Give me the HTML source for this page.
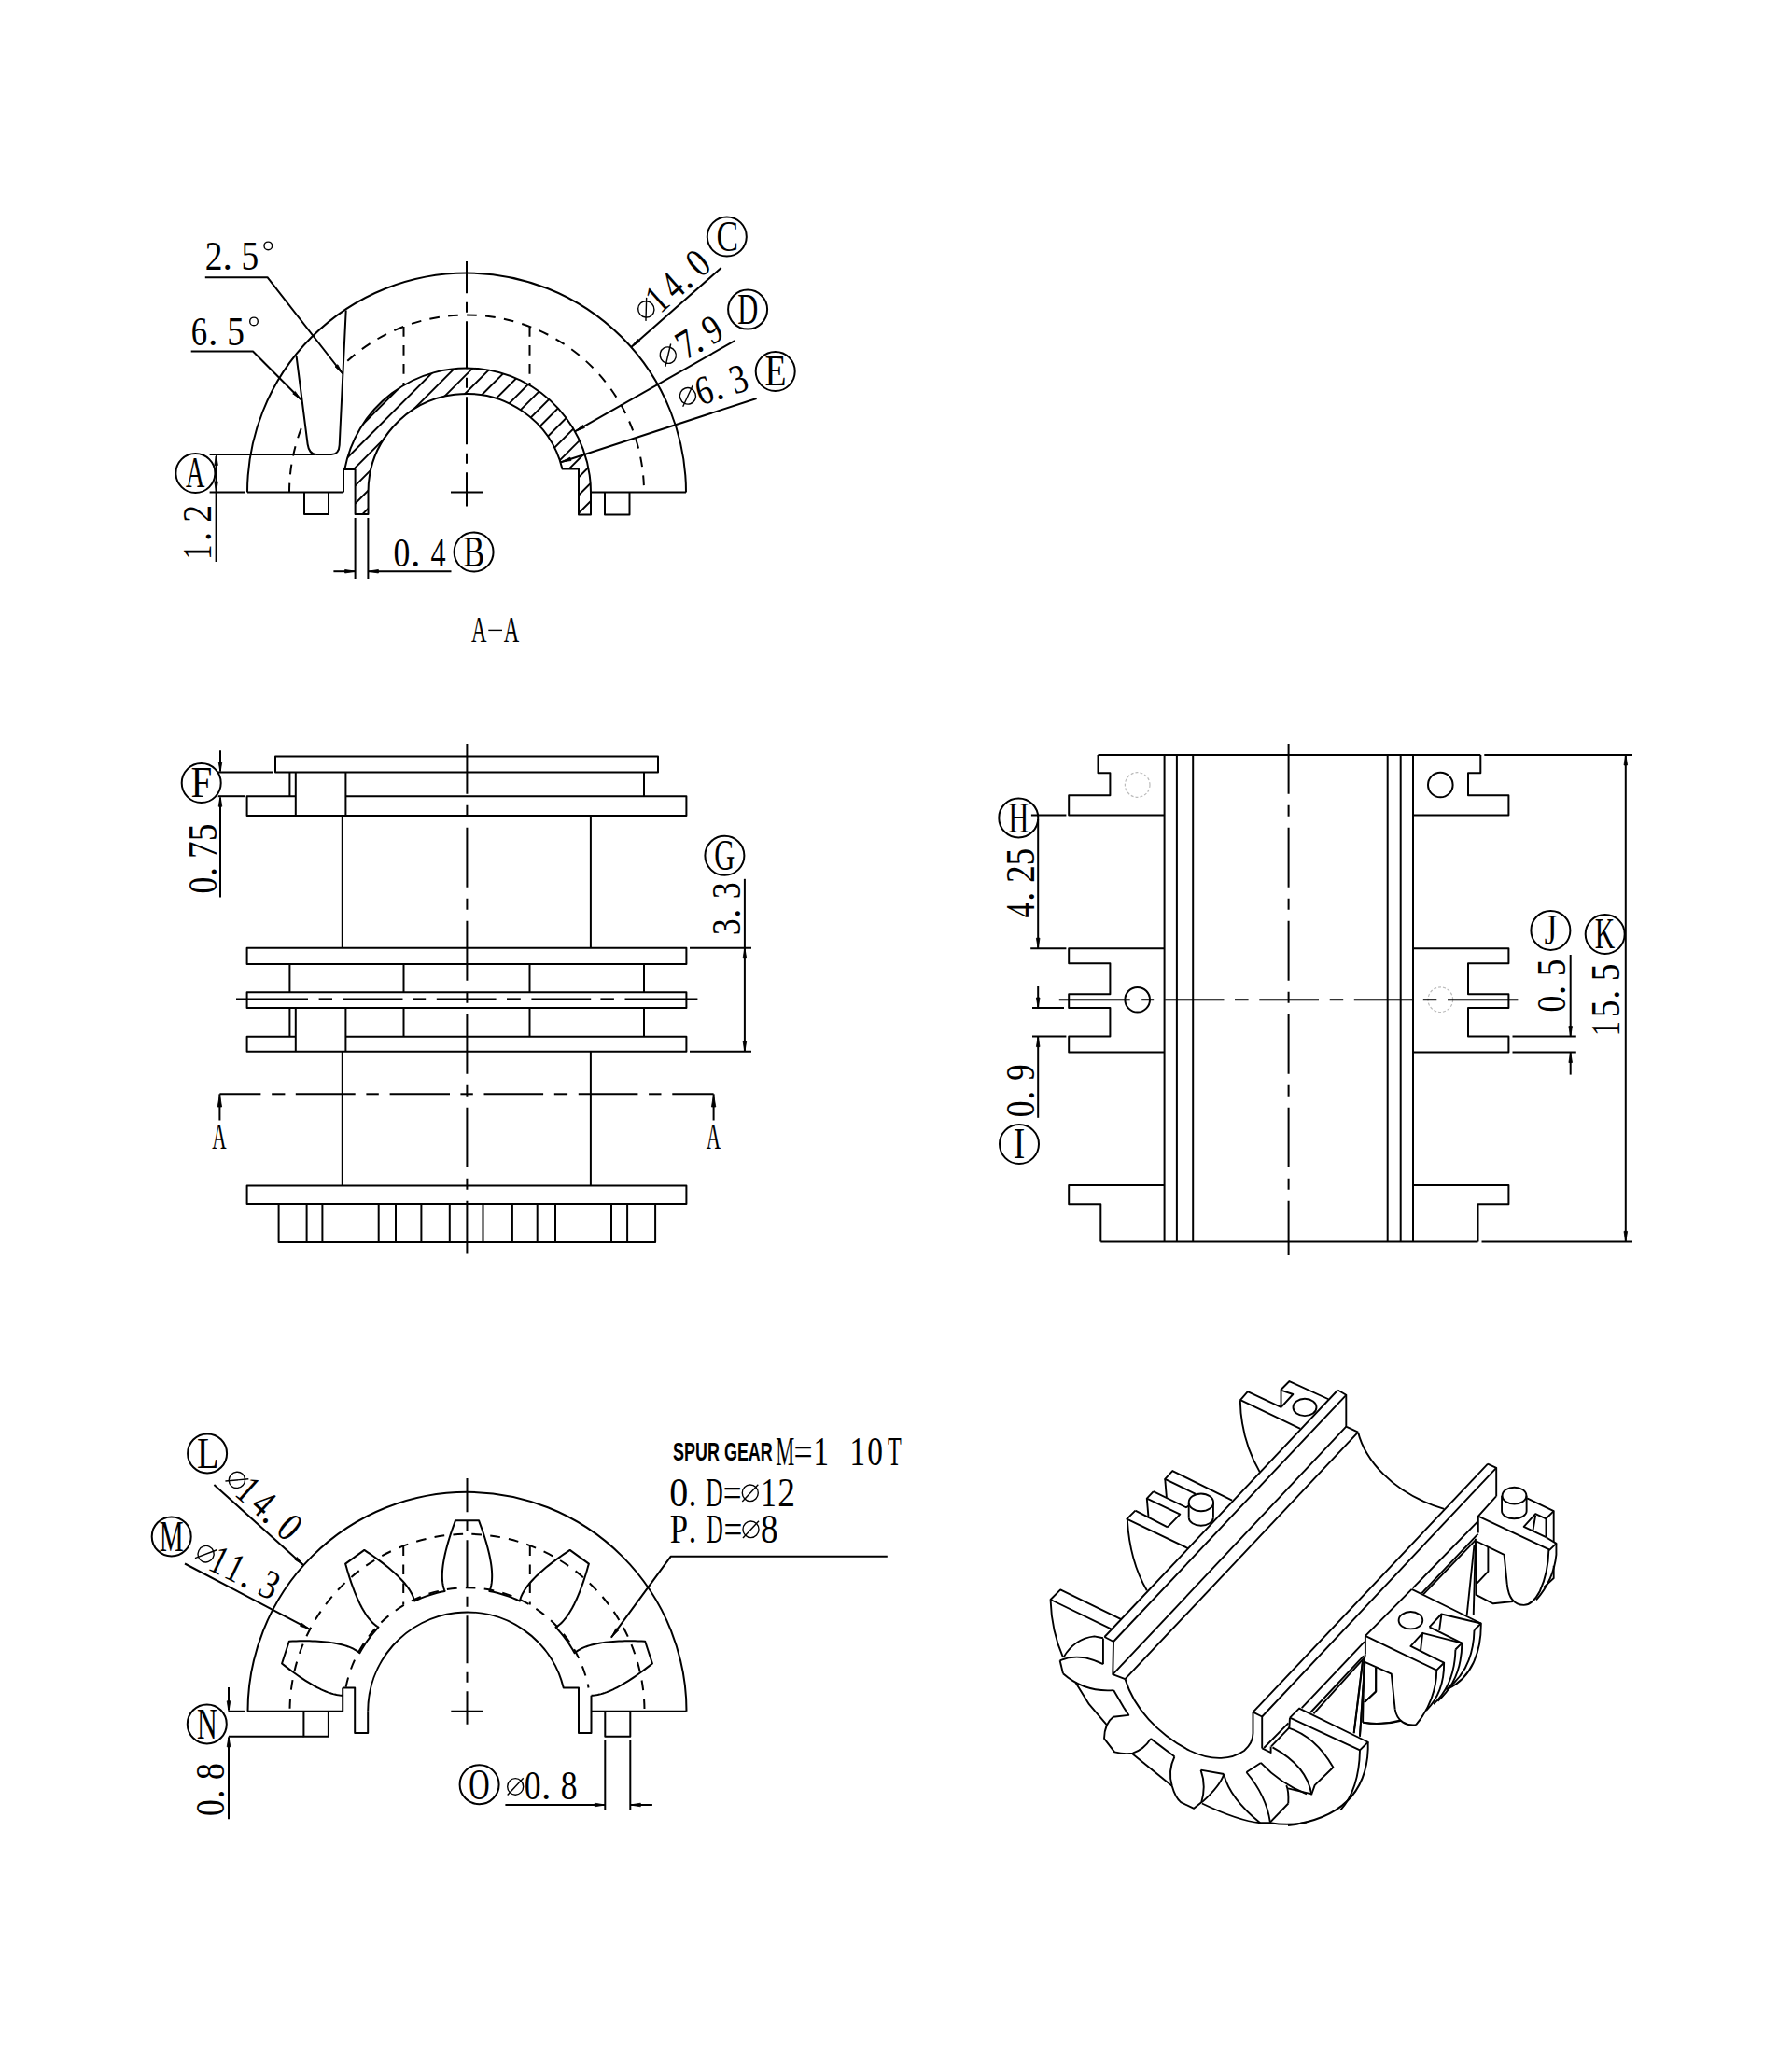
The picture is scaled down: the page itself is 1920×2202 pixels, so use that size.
<!DOCTYPE html>
<html><head><meta charset="utf-8"><style>
html,body{margin:0;padding:0;background:#fff;}
svg{display:block;}
svg line, svg path, svg circle, svg ellipse, svg polyline{fill:none;stroke:#000;stroke-width:2;stroke-linejoin:round;}
svg .ah{fill:#000;stroke:#000;stroke-width:0.8;}
svg .dash{stroke-dasharray:10.7 9.3;}
svg .cl{stroke-dasharray:64 12 12 12;}
svg .cl2{stroke-dasharray:51 9.5 11 9.5;}
svg .cl3{stroke-dasharray:63.5 12 14 12;}
svg .hatch line{stroke-width:1.9;}
svg .ghost{stroke:#bbb;stroke-width:1.2;stroke-dasharray:3 2;}
svg .iso{stroke-width:1.9;}
svg .phi{stroke-width:1.4;}
svg text{font-family:"Liberation Serif",serif;fill:#000;stroke:none;}
svg .tb{font-family:"Liberation Sans",sans-serif;font-weight:bold;}
</style></head><body>
<svg width="1920" height="2202" viewBox="0 0 1920 2202">
<rect width="1920" height="2202" fill="#fff"/>
<g id="topview">
<path d="M265 527.5 A235 235 0 0 1 735 527.5"/>
<line x1="224.6" y1="527.5" x2="262" y2="527.5"/>
<line x1="265" y1="527.5" x2="368" y2="527.5"/>
<line x1="633" y1="527.5" x2="735" y2="527.5"/>
<line x1="224.6" y1="487" x2="338" y2="487"/>
<path d="M317.6 381.8 L329.6 476 Q331.2 487 339 487 L355 487 Q363.2 487 363.7 477 L370.7 332.5"/>
<path d="M310 527.5 A190 190 0 0 1 326.02 451.13" class="dash" stroke-dashoffset="0.8"/>
<path d="M368.01 390.83 A190 190 0 0 1 690 527.5" class="dash" stroke-dashoffset="14.1"/>
<line x1="432.5" y1="350" x2="432.5" y2="413" class="dash"/>
<line x1="567.5" y1="350" x2="567.5" y2="413" class="dash"/>
<clipPath id="hc"><path d="M394.5 551 L394.5 527.5 A105.5 105.5 0 0 1 602.47 502.4 L620 502.4 L620 551.5 L633 551.5 L633 527.5 A133 133 0 0 0 369.28 503 L380.6 503 L380.6 551 Z"/></clipPath>
<g clip-path="url(#hc)" class="hatch">
<line x1="300" y1="101.8" x2="700" y2="-298.2"/>
<line x1="300" y1="121" x2="700" y2="-279"/>
<line x1="300" y1="140.2" x2="700" y2="-259.8"/>
<line x1="300" y1="159.4" x2="700" y2="-240.6"/>
<line x1="300" y1="178.6" x2="700" y2="-221.4"/>
<line x1="300" y1="197.8" x2="700" y2="-202.2"/>
<line x1="300" y1="217" x2="700" y2="-183"/>
<line x1="300" y1="236.2" x2="700" y2="-163.8"/>
<line x1="300" y1="255.4" x2="700" y2="-144.6"/>
<line x1="300" y1="274.6" x2="700" y2="-125.4"/>
<line x1="300" y1="293.8" x2="700" y2="-106.2"/>
<line x1="300" y1="313" x2="700" y2="-87"/>
<line x1="300" y1="332.2" x2="700" y2="-67.8"/>
<line x1="300" y1="351.4" x2="700" y2="-48.6"/>
<line x1="300" y1="370.6" x2="700" y2="-29.4"/>
<line x1="300" y1="389.8" x2="700" y2="-10.2"/>
<line x1="300" y1="409" x2="700" y2="9"/>
<line x1="300" y1="428.2" x2="700" y2="28.2"/>
<line x1="300" y1="447.4" x2="700" y2="47.4"/>
<line x1="300" y1="466.6" x2="700" y2="66.6"/>
<line x1="300" y1="485.8" x2="700" y2="85.8"/>
<line x1="300" y1="505" x2="700" y2="105"/>
<line x1="300" y1="524.2" x2="700" y2="124.2"/>
<line x1="300" y1="543.4" x2="700" y2="143.4"/>
<line x1="300" y1="562.6" x2="700" y2="162.6"/>
<line x1="300" y1="581.8" x2="700" y2="181.8"/>
<line x1="300" y1="601" x2="700" y2="201"/>
<line x1="300" y1="620.2" x2="700" y2="220.2"/>
<line x1="300" y1="639.4" x2="700" y2="239.4"/>
<line x1="300" y1="658.6" x2="700" y2="258.6"/>
<line x1="300" y1="677.8" x2="700" y2="277.8"/>
<line x1="300" y1="697" x2="700" y2="297"/>
<line x1="300" y1="716.2" x2="700" y2="316.2"/>
<line x1="300" y1="735.4" x2="700" y2="335.4"/>
<line x1="300" y1="754.6" x2="700" y2="354.6"/>
<line x1="300" y1="773.8" x2="700" y2="373.8"/>
<line x1="300" y1="793" x2="700" y2="393"/>
<line x1="300" y1="812.2" x2="700" y2="412.2"/>
<line x1="300" y1="831.4" x2="700" y2="431.4"/>
<line x1="300" y1="850.6" x2="700" y2="450.6"/>
<line x1="300" y1="869.8" x2="700" y2="469.8"/>
<line x1="300" y1="889" x2="700" y2="489"/>
<line x1="300" y1="908.2" x2="700" y2="508.2"/>
<line x1="300" y1="927.4" x2="700" y2="527.4"/>
<line x1="300" y1="946.6" x2="700" y2="546.6"/>
<line x1="300" y1="965.8" x2="700" y2="565.8"/>
<line x1="300" y1="985" x2="700" y2="585"/>
<line x1="300" y1="1004.2" x2="700" y2="604.2"/>
<line x1="300" y1="1023.4" x2="700" y2="623.4"/>
<line x1="300" y1="1042.6" x2="700" y2="642.6"/>
<line x1="300" y1="1061.8" x2="700" y2="661.8"/>
<line x1="300" y1="1081" x2="700" y2="681"/>
<line x1="300" y1="1100.2" x2="700" y2="700.2"/>
<line x1="300" y1="1119.4" x2="700" y2="719.4"/>
<line x1="300" y1="1138.6" x2="700" y2="738.6"/>
<line x1="300" y1="1157.8" x2="700" y2="757.8"/>
<line x1="300" y1="1177" x2="700" y2="777"/>
<line x1="300" y1="1196.2" x2="700" y2="796.2"/>
<line x1="300" y1="1215.4" x2="700" y2="815.4"/>
<line x1="300" y1="1234.6" x2="700" y2="834.6"/>
<line x1="300" y1="1253.8" x2="700" y2="853.8"/>
<line x1="300" y1="1273" x2="700" y2="873"/>
<line x1="300" y1="1292.2" x2="700" y2="892.2"/>
<line x1="300" y1="1311.4" x2="700" y2="911.4"/>
<line x1="300" y1="1330.6" x2="700" y2="930.6"/>
<line x1="300" y1="1349.8" x2="700" y2="949.8"/>
<line x1="300" y1="1369" x2="700" y2="969"/>
<line x1="300" y1="1388.2" x2="700" y2="988.2"/>
<line x1="300" y1="1407.4" x2="700" y2="1007.4"/>
<line x1="300" y1="1426.6" x2="700" y2="1026.6"/>
<line x1="300" y1="1445.8" x2="700" y2="1045.8"/>
<line x1="300" y1="1465" x2="700" y2="1065"/>
<line x1="300" y1="1484.2" x2="700" y2="1084.2"/>
<line x1="300" y1="1503.4" x2="700" y2="1103.4"/>
<line x1="300" y1="1522.6" x2="700" y2="1122.6"/>
<line x1="300" y1="1541.8" x2="700" y2="1141.8"/>
<line x1="300" y1="1561" x2="700" y2="1161"/>
<line x1="300" y1="1580.2" x2="700" y2="1180.2"/>
<line x1="300" y1="1599.4" x2="700" y2="1199.4"/>
<line x1="300" y1="1618.6" x2="700" y2="1218.6"/>
</g>
<path d="M394.5 551 L394.5 527.5 A105.5 105.5 0 0 1 602.47 502.4 L620 502.4 L620 551.5 L633 551.5 L633 527.5 A133 133 0 0 0 369.28 503 L380.6 503 L380.6 551 Z"/>
<line x1="368" y1="527.5" x2="368" y2="503"/>
<line x1="368" y1="503" x2="380.6" y2="503"/>
<path d="M326 527.5 L326 551 L352 551 L352 527.5"/>
<path d="M648 527.5 L648 551.5 L674.5 551.5 L674.5 527.5"/>
<line x1="500" y1="280" x2="500" y2="542.5" class="cl2" stroke-dashoffset="16.7"/>
<line x1="483" y1="527.5" x2="517" y2="527.5"/>
<path d="M219.8 297.2 L286.5 297.2 L367.2 400.5" fill="none"/>
<path class="ah" d="M367.2 400.5 L359.01 392.94 L361.85 390.72 Z"/>
<path d="M204.7 376.5 L271 376.5 L322.8 428.5"/>
<path class="ah" d="M322.8 428.5 L313.76 421.98 L316.31 419.44 Z"/>
<g transform="translate(221.5 289)">
<text class="t" transform="translate(-1.69 0) scale(0.85 1)" font-size="44">2</text>
<text class="t" transform="translate(16.89 0) scale(0.95 1)" font-size="44">.</text>
<text class="t" transform="translate(36.95 0) scale(0.85 1)" font-size="44">5</text>
<circle class="phi" cx="65.8" cy="-25.6" r="4.3"/>
</g>
<g transform="translate(206.2 370)">
<text class="t" transform="translate(-1.4 0) scale(0.79 1)" font-size="44">6</text>
<text class="t" transform="translate(16.89 0) scale(0.95 1)" font-size="44">.</text>
<text class="t" transform="translate(36.95 0) scale(0.85 1)" font-size="44">5</text>
<circle class="phi" cx="65.8" cy="-25.6" r="4.3"/>
</g>
<line x1="772.7" y1="287" x2="676.22" y2="372.02"/>
<path class="ah" d="M676.22 372.02 L683.28 363.4 L685.66 366.1 Z"/>
<line x1="787.2" y1="365.1" x2="615.97" y2="462.38"/>
<path class="ah" d="M615.97 462.38 L624.64 455.38 L626.42 458.51 Z"/>
<line x1="810.6" y1="427" x2="600.96" y2="495.2"/>
<path class="ah" d="M600.96 495.2 L610.86 490.08 L611.98 493.51 Z"/>
<g transform="translate(695.2 347.5) rotate(-41.4)">
<ellipse class="phi" cx="8.5" cy="-14" rx="8.5" ry="8.8"/>
<line class="phi" x1="-0.02" y1="-4.86" x2="17.02" y2="-23.14"/>
<text class="t" transform="translate(16.25 0) scale(0.74 1)" font-size="44">1</text>
<text class="t" transform="translate(38.35 0) scale(0.73 1)" font-size="44">4</text>
<text class="t" transform="translate(55.29 0) scale(0.95 1)" font-size="44">.</text>
<text class="t" transform="translate(74.07 0) scale(0.81 1)" font-size="44">0</text>
</g>
<g transform="translate(715.3 397) rotate(-29.6)">
<ellipse class="phi" cx="8.5" cy="-14" rx="8.5" ry="8.8"/>
<line class="phi" x1="-0.02" y1="-4.86" x2="17.02" y2="-23.14"/>
<text class="t" transform="translate(22.09 0) scale(0.84 1)" font-size="44">7</text>
<text class="t" transform="translate(36.79 0) scale(0.95 1)" font-size="44">.</text>
<text class="t" transform="translate(54.45 0) scale(0.79 1)" font-size="44">9</text>
</g>
<g transform="translate(733.2 440.3) rotate(-18)">
<ellipse class="phi" cx="8.5" cy="-14" rx="8.5" ry="8.8"/>
<line class="phi" x1="-0.02" y1="-4.86" x2="17.02" y2="-23.14"/>
<text class="t" transform="translate(18.1 0) scale(0.79 1)" font-size="44">6</text>
<text class="t" transform="translate(36.29 0) scale(0.95 1)" font-size="44">.</text>
<text class="t" transform="translate(56.87 0) scale(0.82 1)" font-size="44">3</text>
</g>
<circle cx="778.8" cy="253.5" r="21"/>
<g transform="translate(768.8 268.89)">
<text class="t" transform="translate(-1.4 0) scale(0.75 1)" font-size="47">C</text>
</g>
<circle cx="801.1" cy="331.6" r="21"/>
<g transform="translate(791.1 346.99)">
<text class="t" transform="translate(-0.92 0) scale(0.65 1)" font-size="47">D</text>
</g>
<circle cx="830.7" cy="398" r="21"/>
<g transform="translate(820.7 413.39)">
<text class="t" transform="translate(-1.13 0) scale(0.8 1)" font-size="47">E</text>
</g>
<circle cx="209.4" cy="507" r="21"/>
<g transform="translate(199.4 522.39)">
<text class="t" transform="translate(-0.28 0) scale(0.6 1)" font-size="47">A</text>
</g>
<line x1="231.6" y1="489" x2="231.6" y2="602"/>
<path class="ah" d="M231.6 487.5 L233.4 498.5 L229.8 498.5 Z"/>
<path class="ah" d="M231.6 527 L229.8 516 L233.4 516 Z"/>
<g transform="translate(225.5 597) rotate(-90)">
<text class="t" transform="translate(-2.75 0) scale(0.74 1)" font-size="44">1</text>
<text class="t" transform="translate(16.79 0) scale(0.95 1)" font-size="44">.</text>
<text class="t" transform="translate(37.31 0) scale(0.85 1)" font-size="44">2</text>
</g>
<line x1="380.6" y1="555" x2="380.6" y2="620"/>
<line x1="394.4" y1="555" x2="394.4" y2="620"/>
<line x1="357.4" y1="612.2" x2="380.6" y2="612.2"/>
<path class="ah" d="M380.6 612.2 L369.6 614 L369.6 610.4 Z"/>
<line x1="394.4" y1="612.2" x2="483.5" y2="612.2"/>
<path class="ah" d="M394.4 612.2 L405.4 610.4 L405.4 614 Z"/>
<g transform="translate(423 607)">
<text class="t" transform="translate(-1.43 0) scale(0.81 1)" font-size="44">0</text>
<text class="t" transform="translate(16.89 0) scale(0.95 1)" font-size="44">.</text>
<text class="t" transform="translate(38.55 0) scale(0.73 1)" font-size="44">4</text>
</g>
<circle cx="507.6" cy="591.5" r="21"/>
<g transform="translate(497.6 606.89)">
<text class="t" transform="translate(-1.02 0) scale(0.72 1)" font-size="47">B</text>
</g>
<g transform="translate(505.2 688.4)">
<text class="t" transform="translate(-0.23 0) scale(0.57 1)" font-size="40">A</text>
</g>
<g transform="translate(540 688.4)">
<text class="t" transform="translate(-0.23 0) scale(0.57 1)" font-size="40">A</text>
</g>
<line x1="523.3" y1="675.4" x2="538" y2="675.4" style="stroke-width:1.4"/>
</g>
<g id="front">
<path d="M295 810.4 L705 810.4 L705 827.5 L295 827.5 Z"/>
<path d="M316.8 853.2 L264.6 853.2 L264.6 874 L735.4 874 L735.4 853.2 L370.4 853.2"/>
<line x1="310.4" y1="827.5" x2="310.4" y2="853.2"/>
<line x1="690" y1="827.5" x2="690" y2="853.2"/>
<path d="M316.8 827.5 L316.8 874"/>
<path d="M370.4 827.5 L370.4 874"/>
<line x1="366.8" y1="874" x2="366.8" y2="1015.7"/>
<line x1="632.9" y1="874" x2="632.9" y2="1015.7"/>
<path d="M264.6 1015.7 L735.4 1015.7 L735.4 1032.9 L264.6 1032.9 Z"/>
<line x1="310.4" y1="1032.9" x2="310.4" y2="1063.2"/>
<line x1="432.5" y1="1032.9" x2="432.5" y2="1063.2"/>
<line x1="567.5" y1="1032.9" x2="567.5" y2="1063.2"/>
<line x1="690" y1="1032.9" x2="690" y2="1063.2"/>
<path d="M264.6 1063.2 L735.4 1063.2 L735.4 1080 L264.6 1080 Z"/>
<line x1="310.4" y1="1080" x2="310.4" y2="1110.7"/>
<line x1="432.5" y1="1080" x2="432.5" y2="1110.7"/>
<line x1="567.5" y1="1080" x2="567.5" y2="1110.7"/>
<line x1="690" y1="1080" x2="690" y2="1110.7"/>
<path d="M316.8 1110.7 L264.6 1110.7 L264.6 1126.8 L735.4 1126.8 L735.4 1110.7 L370.4 1110.7"/>
<line x1="316.8" y1="1080" x2="316.8" y2="1126.8"/>
<line x1="370.4" y1="1080" x2="370.4" y2="1126.8"/>
<line x1="366.8" y1="1126.8" x2="366.8" y2="1270.4"/>
<line x1="632.9" y1="1126.8" x2="632.9" y2="1270.4"/>
<path d="M264.6 1270.4 L735.4 1270.4 L735.4 1290 L264.6 1290 Z"/>
<path d="M298.6 1290 L298.6 1331 L702.1 1331 L702.1 1290"/>
<line x1="328.6" y1="1290" x2="328.6" y2="1331"/>
<line x1="345.4" y1="1290" x2="345.4" y2="1331"/>
<line x1="405.7" y1="1290" x2="405.7" y2="1331"/>
<line x1="424" y1="1290" x2="424" y2="1331"/>
<line x1="451.4" y1="1290" x2="451.4" y2="1331"/>
<line x1="481.8" y1="1290" x2="481.8" y2="1331"/>
<line x1="517.5" y1="1290" x2="517.5" y2="1331"/>
<line x1="548.9" y1="1290" x2="548.9" y2="1331"/>
<line x1="575.7" y1="1290" x2="575.7" y2="1331"/>
<line x1="595" y1="1290" x2="595" y2="1331"/>
<line x1="655" y1="1290" x2="655" y2="1331"/>
<line x1="672.1" y1="1290" x2="672.1" y2="1331"/>
<line x1="253" y1="1070.4" x2="330" y2="1070.4"/>
<line x1="341.6" y1="1070.4" x2="356" y2="1070.4"/>
<line x1="367.7" y1="1070.4" x2="431.5" y2="1070.4"/>
<line x1="443" y1="1070.4" x2="456.2" y2="1070.4"/>
<line x1="467.8" y1="1070.4" x2="531.6" y2="1070.4"/>
<line x1="543" y1="1070.4" x2="557.8" y2="1070.4"/>
<line x1="569.4" y1="1070.4" x2="633.2" y2="1070.4"/>
<line x1="643.4" y1="1070.4" x2="657.9" y2="1070.4"/>
<line x1="669.5" y1="1070.4" x2="747.4" y2="1070.4"/>
<line x1="500.4" y1="797" x2="500.4" y2="1343.6" class="cl" stroke-dashoffset="10.3"/>
<line x1="235.4" y1="1172.3" x2="279.4" y2="1172.3"/>
<line x1="291.2" y1="1172.3" x2="305.4" y2="1172.3"/>
<line x1="316.8" y1="1172.3" x2="380.7" y2="1172.3"/>
<line x1="392.4" y1="1172.3" x2="405.8" y2="1172.3"/>
<line x1="417.6" y1="1172.3" x2="482" y2="1172.3"/>
<line x1="493.4" y1="1172.3" x2="506.8" y2="1172.3"/>
<line x1="518.5" y1="1172.3" x2="582.1" y2="1172.3"/>
<line x1="593.8" y1="1172.3" x2="608.1" y2="1172.3"/>
<line x1="619.8" y1="1172.3" x2="683.4" y2="1172.3"/>
<line x1="695.1" y1="1172.3" x2="708.5" y2="1172.3"/>
<line x1="720.3" y1="1172.3" x2="764.6" y2="1172.3"/>
<line x1="235.4" y1="1172.3" x2="235.4" y2="1200.5"/>
<line x1="764.6" y1="1172.3" x2="764.6" y2="1200.5"/>
<path class="ah" d="M235.4 1173 L237.6 1186 L233.2 1186 Z"/>
<path class="ah" d="M764.6 1173 L766.8 1186 L762.4 1186 Z"/>
<g transform="translate(227.5 1230.5)">
<text class="t" transform="translate(-0.21 0) scale(0.53 1)" font-size="40">A</text>
</g>
<g transform="translate(757 1230.5)">
<text class="t" transform="translate(-0.21 0) scale(0.53 1)" font-size="40">A</text>
</g>
<circle cx="215.7" cy="839" r="21"/>
<g transform="translate(205.7 854.39)">
<text class="t" transform="translate(-1.22 0) scale(0.87 1)" font-size="47">F</text>
</g>
<line x1="233.6" y1="827.5" x2="292.5" y2="827.5"/>
<line x1="233.6" y1="853.2" x2="262" y2="853.2"/>
<line x1="236" y1="804.3" x2="236" y2="826"/>
<path class="ah" d="M236 827.5 L234.2 816.5 L237.8 816.5 Z"/>
<line x1="236" y1="855" x2="236" y2="961.4"/>
<path class="ah" d="M236 853.2 L237.8 864.2 L234.2 864.2 Z"/>
<g transform="translate(231.5 956) rotate(-90)">
<text class="t" transform="translate(-1.43 0) scale(0.81 1)" font-size="44">0</text>
<text class="t" transform="translate(16.79 0) scale(0.95 1)" font-size="44">.</text>
<text class="t" transform="translate(36.09 0) scale(0.84 1)" font-size="44">7</text>
<text class="t" transform="translate(54.75 0) scale(0.85 1)" font-size="44">5</text>
</g>
<circle cx="776.4" cy="916.8" r="21"/>
<g transform="translate(766.4 932.19)">
<text class="t" transform="translate(-1.23 0) scale(0.65 1)" font-size="47">G</text>
</g>
<line x1="739" y1="1015.7" x2="805" y2="1015.7"/>
<line x1="739" y1="1126.8" x2="805" y2="1126.8"/>
<line x1="797.9" y1="941.8" x2="797.9" y2="1126.8"/>
<path class="ah" d="M797.9 1015.7 L799.7 1026.7 L796.1 1026.7 Z"/>
<path class="ah" d="M797.9 1126.8 L796.1 1115.8 L799.7 1115.8 Z"/>
<g transform="translate(792.5 1000.7) rotate(-90)">
<text class="t" transform="translate(-1.63 0) scale(0.82 1)" font-size="44">3</text>
<text class="t" transform="translate(16.79 0) scale(0.95 1)" font-size="44">.</text>
<text class="t" transform="translate(37.37 0) scale(0.82 1)" font-size="44">3</text>
</g>
</g>
<g id="side">
<line x1="1176.5" y1="808.9" x2="1586.3" y2="808.9"/>
<line x1="1590.3" y1="808.9" x2="1749" y2="808.9"/>
<line x1="1179.3" y1="1330.4" x2="1583.5" y2="1330.4"/>
<line x1="1587.5" y1="1330.4" x2="1749" y2="1330.4"/>
<line x1="1247.6" y1="808.9" x2="1247.6" y2="1330.4"/>
<line x1="1260.9" y1="808.9" x2="1260.9" y2="1330.4"/>
<line x1="1278.2" y1="808.9" x2="1278.2" y2="1330.4"/>
<line x1="1486.7" y1="808.9" x2="1486.7" y2="1330.4"/>
<line x1="1500.7" y1="808.9" x2="1500.7" y2="1330.4"/>
<line x1="1514" y1="808.9" x2="1514" y2="1330.4"/>
<path d="M1176.5 808.9 L1176.5 828.2 L1189.4 828.2 L1189.4 852.3 L1145.2 852.3 L1145.2 873.6 L1247.6 873.6"/>
<path d="M1586.3 808.9 L1586.3 828.2 L1573 828.2 L1573 852.3 L1616.4 852.3 L1616.4 873.6 L1514 873.6"/>
<path d="M1247.6 1016.2 L1145.2 1016.2 L1145.2 1032.3 L1189.4 1032.3 L1189.4 1065.2 L1145.2 1065.2 L1145.2 1080 L1189.4 1080 L1189.4 1110.6 L1145.2 1110.6 L1145.2 1127.5 L1247.6 1127.5"/>
<path d="M1514 1016.2 L1616.4 1016.2 L1616.4 1032.3 L1573 1032.3 L1573 1065.2 L1616.4 1065.2 L1616.4 1080 L1573 1080 L1573 1110.6 L1616.4 1110.6 L1616.4 1127.5 L1514 1127.5"/>
<path d="M1247.6 1270.1 L1145.2 1270.1 L1145.2 1290.2 L1179.3 1290.2 L1179.3 1330.4"/>
<path d="M1514 1270.1 L1616.4 1270.1 L1616.4 1290.2 L1583.5 1290.2 L1583.5 1330.4"/>
<circle cx="1218.7" cy="841" r="13.3" class="ghost"/>
<circle cx="1543.3" cy="841" r="13.3"/>
<circle cx="1218.7" cy="1071.2" r="13.3"/>
<circle cx="1543.3" cy="1071.2" r="13.3" class="ghost"/>
<line x1="1380.6" y1="797" x2="1380.6" y2="1345" class="cl" stroke-dashoffset="10.3"/>
<line x1="1134.8" y1="1071.2" x2="1210.7" y2="1071.2"/>
<line x1="1223.2" y1="1071.2" x2="1236.2" y2="1071.2"/>
<line x1="1248.2" y1="1071.2" x2="1311.5" y2="1071.2"/>
<line x1="1323" y1="1071.2" x2="1337.6" y2="1071.2"/>
<line x1="1349.3" y1="1071.2" x2="1413" y2="1071.2"/>
<line x1="1424.7" y1="1071.2" x2="1439.2" y2="1071.2"/>
<line x1="1450.8" y1="1071.2" x2="1514.7" y2="1071.2"/>
<line x1="1524.8" y1="1071.2" x2="1539.3" y2="1071.2"/>
<line x1="1551" y1="1071.2" x2="1626.4" y2="1071.2"/>
<circle cx="1091.3" cy="876.4" r="21"/>
<g transform="translate(1081.3 891.79)">
<text class="t" transform="translate(-0.9 0) scale(0.64 1)" font-size="47">H</text>
</g>
<line x1="1104.9" y1="873.6" x2="1142.4" y2="873.6"/>
<line x1="1104.2" y1="1016.2" x2="1142.4" y2="1016.2"/>
<line x1="1112.2" y1="878" x2="1112.2" y2="1016.2"/>
<path class="ah" d="M1112.2 1016.2 L1110.4 1005.2 L1114 1005.2 Z"/>
<g transform="translate(1108 982.8) rotate(-90)">
<text class="t" transform="translate(-0.65 0) scale(0.73 1)" font-size="44">4</text>
<text class="t" transform="translate(16.79 0) scale(0.95 1)" font-size="44">.</text>
<text class="t" transform="translate(36.81 0) scale(0.85 1)" font-size="44">2</text>
<text class="t" transform="translate(55.25 0) scale(0.85 1)" font-size="44">5</text>
</g>
<line x1="1106" y1="1080" x2="1140" y2="1080"/>
<line x1="1106" y1="1110.6" x2="1142.4" y2="1110.6"/>
<line x1="1112.2" y1="1057" x2="1112.2" y2="1080"/>
<path class="ah" d="M1112.2 1080 L1110.4 1069 L1114 1069 Z"/>
<line x1="1112.2" y1="1110.6" x2="1112.2" y2="1197.8"/>
<path class="ah" d="M1112.2 1110.6 L1114 1121.6 L1110.4 1121.6 Z"/>
<g transform="translate(1108 1195.8) rotate(-90)">
<text class="t" transform="translate(-1.43 0) scale(0.81 1)" font-size="44">0</text>
<text class="t" transform="translate(16.79 0) scale(0.95 1)" font-size="44">.</text>
<text class="t" transform="translate(37.95 0) scale(0.79 1)" font-size="44">9</text>
</g>
<circle cx="1092" cy="1226" r="21"/>
<g transform="translate(1087 1241.39)">
<text class="t" transform="translate(-1.32 0) scale(0.8 1)" font-size="47">I</text>
</g>
<line x1="1620.5" y1="1110.6" x2="1688.8" y2="1110.6"/>
<line x1="1620.5" y1="1127.5" x2="1688.8" y2="1127.5"/>
<line x1="1682.7" y1="1023" x2="1682.7" y2="1110.6"/>
<path class="ah" d="M1682.7 1110.6 L1680.9 1099.6 L1684.5 1099.6 Z"/>
<line x1="1682.7" y1="1127.5" x2="1682.7" y2="1151.6"/>
<path class="ah" d="M1682.7 1127.5 L1684.5 1138.5 L1680.9 1138.5 Z"/>
<g transform="translate(1676.5 1083) rotate(-90)">
<text class="t" transform="translate(-1.43 0) scale(0.81 1)" font-size="44">0</text>
<text class="t" transform="translate(16.79 0) scale(0.95 1)" font-size="44">.</text>
<text class="t" transform="translate(36.75 0) scale(0.85 1)" font-size="44">5</text>
</g>
<circle cx="1661.4" cy="996.9" r="21"/>
<g transform="translate(1655.4 1012.29)">
<text class="t" transform="translate(-0.69 0) scale(0.73 1)" font-size="47">J</text>
</g>
<line x1="1741.8" y1="808.9" x2="1741.8" y2="1330.4"/>
<path class="ah" d="M1741.8 808.9 L1743.6 819.9 L1740 819.9 Z"/>
<path class="ah" d="M1741.8 1330.4 L1740 1319.4 L1743.6 1319.4 Z"/>
<g transform="translate(1735 1107.4) rotate(-90)">
<text class="t" transform="translate(-2.75 0) scale(0.74 1)" font-size="44">1</text>
<text class="t" transform="translate(17.25 0) scale(0.85 1)" font-size="44">5</text>
<text class="t" transform="translate(36.29 0) scale(0.95 1)" font-size="44">.</text>
<text class="t" transform="translate(56.25 0) scale(0.85 1)" font-size="44">5</text>
</g>
<circle cx="1719.7" cy="1001" r="21"/>
<g transform="translate(1709.7 1016.39)">
<text class="t" transform="translate(-0.88 0) scale(0.63 1)" font-size="47">K</text>
</g>
</g>
<g id="gear">
<path d="M265.5 1833.8 A235 235 0 0 1 735.5 1833.8"/>
<line x1="245" y1="1833.8" x2="263" y2="1833.8"/>
<line x1="265" y1="1833.8" x2="367.2" y2="1833.8"/>
<line x1="633.5" y1="1833.8" x2="735.5" y2="1833.8"/>
<path d="M310.5 1833.8 A190 190 0 0 1 690.5 1833.8" class="dash" stroke-dashoffset="16.8"/>
<path d="M367.2 1816.8 L365.8 1816.74 L364.09 1816.58 L362.33 1816.34 L360.53 1816.01 L358.67 1815.6 L356.76 1815.1 L354.8 1814.51 L352.79 1813.84 L350.73 1813.09 L348.62 1812.25 L346.46 1811.32 L344.25 1810.31 L341.99 1809.21 L339.68 1808.02 L337.32 1806.75 L334.91 1805.4 L332.45 1803.96 L329.93 1802.43 L327.37 1800.82 L324.76 1799.12 L322.1 1797.34 L319.38 1795.47 L316.62 1793.52 L313.81 1791.48 L310.94 1789.35 L308.03 1787.14 L305.07 1784.85 L302.05 1782.46 L309.78 1758.69 L313.62 1758.53 L317.36 1758.42 L321.02 1758.34 L324.59 1758.3 L328.06 1758.31 L331.44 1758.35 L334.74 1758.43 L337.94 1758.56 L341.05 1758.72 L344.07 1758.92 L347 1759.16 L349.84 1759.44 L352.59 1759.77 L355.24 1760.13 L357.81 1760.53 L360.28 1760.97 L362.67 1761.45 L364.96 1761.97 L367.16 1762.52 L369.27 1763.12 L371.29 1763.76 L373.22 1764.44 L375.06 1765.16 L376.8 1765.91 L378.46 1766.71 L380.02 1767.55 L381.5 1768.42 L382.88 1769.34 L384.17 1770.3 L385.37 1771.29 L387.48 1767.56 L389.71 1763.9 L392.06 1760.31 L394.52 1756.8 L397.09 1753.37 L399.78 1750.03 L402.58 1746.78 L405.48 1743.63 L404.16 1742.79 L402.85 1741.86 L401.55 1740.82 L400.26 1739.69 L398.98 1738.46 L397.71 1737.14 L396.45 1735.71 L395.2 1734.18 L393.96 1732.56 L392.73 1730.83 L391.51 1729.01 L390.3 1727.09 L389.09 1725.07 L387.9 1722.95 L386.72 1720.73 L385.54 1718.42 L384.38 1716 L383.23 1713.49 L382.08 1710.88 L380.95 1708.17 L379.82 1705.36 L378.71 1702.45 L377.6 1699.44 L376.5 1696.33 L375.42 1693.13 L374.34 1689.82 L373.27 1686.42 L372.21 1682.92 L371.17 1679.32 L370.13 1675.62 L390.35 1660.93 L393.55 1663.06 L396.65 1665.17 L399.65 1667.26 L402.56 1669.32 L405.37 1671.37 L408.08 1673.39 L410.69 1675.4 L413.21 1677.38 L415.63 1679.34 L417.96 1681.27 L420.19 1683.19 L422.32 1685.09 L424.35 1686.96 L426.29 1688.82 L428.13 1690.65 L429.87 1692.46 L431.52 1694.25 L433.07 1696.01 L434.52 1697.76 L435.88 1699.49 L437.13 1701.19 L438.3 1702.87 L439.36 1704.53 L440.33 1706.17 L441.2 1707.79 L441.97 1709.39 L442.65 1710.96 L443.23 1712.52 L443.72 1714.05 L444.1 1715.56 L448 1713.78 L451.96 1712.13 L455.96 1710.6 L460.02 1709.21 L464.12 1707.95 L468.25 1706.83 L472.43 1705.84 L476.63 1704.99 L476.05 1703.54 L475.54 1702.02 L475.1 1700.42 L474.72 1698.75 L474.41 1697 L474.16 1695.18 L473.98 1693.28 L473.87 1691.31 L473.82 1689.27 L473.83 1687.15 L473.92 1684.96 L474.07 1682.69 L474.28 1680.35 L474.56 1677.94 L474.91 1675.45 L475.32 1672.88 L475.8 1670.25 L476.34 1667.53 L476.95 1664.75 L477.63 1661.89 L478.37 1658.95 L479.17 1655.94 L480.05 1652.86 L480.99 1649.7 L481.99 1646.47 L483.06 1643.17 L484.2 1639.79 L485.4 1636.33 L486.67 1632.8 L488 1629.2 L513 1629.2 L514.33 1632.8 L515.6 1636.33 L516.8 1639.79 L517.94 1643.17 L519.01 1646.47 L520.01 1649.7 L520.95 1652.86 L521.83 1655.94 L522.63 1658.95 L523.37 1661.89 L524.05 1664.75 L524.66 1667.53 L525.2 1670.25 L525.68 1672.88 L526.09 1675.45 L526.44 1677.94 L526.72 1680.35 L526.93 1682.69 L527.08 1684.96 L527.17 1687.15 L527.18 1689.27 L527.13 1691.31 L527.02 1693.28 L526.84 1695.18 L526.59 1697 L526.28 1698.75 L525.9 1700.42 L525.46 1702.02 L524.95 1703.54 L524.37 1704.99 L528.57 1705.84 L532.75 1706.83 L536.88 1707.95 L540.98 1709.21 L545.04 1710.6 L549.04 1712.13 L553 1713.78 L556.9 1715.56 L557.28 1714.05 L557.77 1712.52 L558.35 1710.96 L559.03 1709.39 L559.8 1707.79 L560.67 1706.17 L561.64 1704.53 L562.7 1702.87 L563.87 1701.19 L565.12 1699.49 L566.48 1697.76 L567.93 1696.01 L569.48 1694.25 L571.13 1692.46 L572.87 1690.65 L574.71 1688.82 L576.65 1686.96 L578.68 1685.09 L580.81 1683.19 L583.04 1681.27 L585.37 1679.34 L587.79 1677.38 L590.31 1675.4 L592.92 1673.39 L595.63 1671.37 L598.44 1669.32 L601.35 1667.26 L604.35 1665.17 L607.45 1663.06 L610.65 1660.93 L630.87 1675.62 L629.83 1679.32 L628.79 1682.92 L627.73 1686.42 L626.66 1689.82 L625.58 1693.13 L624.5 1696.33 L623.4 1699.44 L622.29 1702.45 L621.18 1705.36 L620.05 1708.17 L618.92 1710.88 L617.77 1713.49 L616.62 1716 L615.46 1718.42 L614.28 1720.73 L613.1 1722.95 L611.91 1725.07 L610.7 1727.09 L609.49 1729.01 L608.27 1730.83 L607.04 1732.56 L605.8 1734.18 L604.55 1735.71 L603.29 1737.14 L602.02 1738.46 L600.74 1739.69 L599.45 1740.82 L598.15 1741.86 L596.84 1742.79 L595.52 1743.63 L598.42 1746.78 L601.22 1750.03 L603.91 1753.37 L606.48 1756.8 L608.94 1760.31 L611.29 1763.9 L613.52 1767.56 L615.63 1771.29 L616.83 1770.3 L618.12 1769.34 L619.5 1768.42 L620.98 1767.55 L622.54 1766.71 L624.2 1765.91 L625.94 1765.16 L627.78 1764.44 L629.71 1763.76 L631.73 1763.12 L633.84 1762.52 L636.04 1761.97 L638.33 1761.45 L640.72 1760.97 L643.19 1760.53 L645.76 1760.13 L648.41 1759.77 L651.16 1759.44 L654 1759.16 L656.93 1758.92 L659.95 1758.72 L663.06 1758.56 L666.26 1758.43 L669.56 1758.35 L672.94 1758.31 L676.41 1758.3 L679.98 1758.34 L683.64 1758.42 L687.38 1758.53 L691.22 1758.69 L698.95 1782.46 L695.93 1784.85 L692.97 1787.14 L690.06 1789.35 L687.19 1791.48 L684.38 1793.52 L681.62 1795.47 L678.9 1797.34 L676.24 1799.12 L673.63 1800.82 L671.07 1802.43 L668.55 1803.96 L666.09 1805.4 L663.68 1806.75 L661.32 1808.02 L659.01 1809.21 L656.75 1810.31 L654.54 1811.32 L652.38 1812.25 L650.27 1813.09 L648.21 1813.84 L646.2 1814.51 L644.24 1815.1 L642.33 1815.6 L640.47 1816.01 L638.67 1816.34 L636.91 1816.58 L635.2 1816.74 L633.54 1816.81 L633.5 1816.81"/>
<line x1="367.2" y1="1833.8" x2="367.2" y2="1808.5"/>
<path d="M367.2 1808.5 L380.2 1808.5 L380.2 1856.9 L394.2 1856.9 L394.2 1833.8"/>
<path d="M394.2 1833.8 A106.3 106.3 0 0 1 603.75 1808.5 L620 1808.5 L620 1856.9 L633.5 1856.9 L633.5 1816.81"/>
<path d="M370.43 1808.52 A132.5 132.5 0 0 1 630.57 1808.52" class="dash" stroke-dashoffset="19.2"/>
<line x1="432.2" y1="1656.4" x2="432.2" y2="1719.5" class="dash"/>
<line x1="567.8" y1="1656.4" x2="567.8" y2="1719.5" class="dash"/>
<path d="M325.4 1833.8 L325.4 1860.8 L351.9 1860.8 L351.9 1833.8"/>
<path d="M648.3 1833.8 L648.3 1860.8 L675.3 1860.8 L675.3 1833.8"/>
<line x1="500.5" y1="1584.1" x2="500.5" y2="1847.7" class="cl2" stroke-dashoffset="14.9"/>
<line x1="483.3" y1="1833.8" x2="517" y2="1833.8"/>
<line x1="229.4" y1="1591" x2="325.29" y2="1677.2"/>
<path class="ah" d="M325.29 1677.2 L315.9 1671.18 L318.31 1668.5 Z"/>
<line x1="198" y1="1675.5" x2="332.08" y2="1745.86"/>
<path class="ah" d="M332.08 1745.86 L321.5 1742.34 L323.17 1739.15 Z"/>
<circle cx="222.1" cy="1557.4" r="21"/>
<g transform="translate(212.1 1572.79)">
<text class="t" transform="translate(-1.15 0) scale(0.82 1)" font-size="47">L</text>
</g>
<circle cx="183.7" cy="1646.4" r="21"/>
<g transform="translate(171.7 1661.79)">
<text class="t" transform="translate(-0.87 0) scale(0.62 1)" font-size="47">M</text>
</g>
<g transform="translate(238.2 1590.6) rotate(42)">
<ellipse class="phi" cx="8.5" cy="-14" rx="8.5" ry="8.8"/>
<line class="phi" x1="-0.02" y1="-4.86" x2="17.02" y2="-23.14"/>
<text class="t" transform="translate(16.25 0) scale(0.74 1)" font-size="44">1</text>
<text class="t" transform="translate(38.35 0) scale(0.73 1)" font-size="44">4</text>
<text class="t" transform="translate(55.29 0) scale(0.95 1)" font-size="44">.</text>
<text class="t" transform="translate(75.57 0) scale(0.81 1)" font-size="44">0</text>
</g>
<g transform="translate(206.8 1674) rotate(26.2)">
<ellipse class="phi" cx="8.5" cy="-14" rx="8.5" ry="8.8"/>
<line class="phi" x1="-0.02" y1="-4.86" x2="17.02" y2="-23.14"/>
<text class="t" transform="translate(16.25 0) scale(0.74 1)" font-size="44">1</text>
<text class="t" transform="translate(35.25 0) scale(0.74 1)" font-size="44">1</text>
<text class="t" transform="translate(54.29 0) scale(0.95 1)" font-size="44">.</text>
<text class="t" transform="translate(75.37 0) scale(0.82 1)" font-size="44">3</text>
</g>
<circle cx="221.8" cy="1847.4" r="21"/>
<g transform="translate(211.8 1862.79)">
<text class="t" transform="translate(-0.9 0) scale(0.64 1)" font-size="47">N</text>
</g>
<line x1="245" y1="1860.8" x2="325.4" y2="1860.8"/>
<line x1="245" y1="1808" x2="245" y2="1832"/>
<path class="ah" d="M245 1833.8 L243.2 1822.8 L246.8 1822.8 Z"/>
<line x1="245" y1="1862" x2="245" y2="1949.3"/>
<path class="ah" d="M245 1860.8 L246.8 1871.8 L243.2 1871.8 Z"/>
<g transform="translate(240 1944.6) rotate(-90)">
<text class="t" transform="translate(-1.43 0) scale(0.81 1)" font-size="44">0</text>
<text class="t" transform="translate(16.79 0) scale(0.95 1)" font-size="44">.</text>
<text class="t" transform="translate(37.57 0) scale(0.81 1)" font-size="44">8</text>
</g>
<circle cx="513.6" cy="1912.2" r="21"/>
<g transform="translate(503.6 1927.59)">
<text class="t" transform="translate(-1.25 0) scale(0.66 1)" font-size="47">O</text>
</g>
<g transform="translate(543.7 1928.4)">
<ellipse class="phi" cx="8.5" cy="-14" rx="8.5" ry="8.8"/>
<line class="phi" x1="-0.02" y1="-4.86" x2="17.02" y2="-23.14"/>
<text class="t" transform="translate(18.07 0) scale(0.81 1)" font-size="44">0</text>
<text class="t" transform="translate(36.29 0) scale(0.95 1)" font-size="44">.</text>
<text class="t" transform="translate(57.07 0) scale(0.81 1)" font-size="44">8</text>
</g>
<line x1="648.3" y1="1864" x2="648.3" y2="1940"/>
<line x1="675.3" y1="1864" x2="675.3" y2="1940"/>
<line x1="541.4" y1="1934" x2="648.3" y2="1934"/>
<path class="ah" d="M648.3 1934 L637.3 1935.8 L637.3 1932.2 Z"/>
<line x1="675.3" y1="1934" x2="698.9" y2="1934"/>
<path class="ah" d="M675.3 1934 L686.3 1932.2 L686.3 1935.8 Z"/>
<text class="tb" transform="translate(721.1 1565.3) scale(0.66 1)" font-size="27.2">SPUR GEAR</text>
<g transform="translate(832 1570)">
<text class="t" transform="translate(-0.68 0) scale(0.51 1)" font-size="44">M</text>
<text class="t" transform="translate(18.53 0) scale(0.81 1)" font-size="44">=</text>
<text class="t" transform="translate(39.4 0) scale(0.75 1)" font-size="44">1</text>
<text class="t" transform="translate(78.5 0) scale(0.75 1)" font-size="44">1</text>
<text class="t" transform="translate(97.17 0) scale(0.76 1)" font-size="44">0</text>
<text class="t" transform="translate(119.11 0) scale(0.55 1)" font-size="44">T</text>
</g>
<g transform="translate(718.8 1613.8)">
<text class="t" transform="translate(-1.6 0) scale(0.91 1)" font-size="44">0</text>
<text class="t" transform="translate(18.83 0) scale(0.76 1)" font-size="44">.</text>
<text class="t" transform="translate(37.43 0) scale(0.58 1)" font-size="44">D</text>
<text class="t" transform="translate(56.04 0) scale(0.8 1)" font-size="44">=</text>
<ellipse class="phi" cx="85" cy="-14" rx="8.5" ry="8.8"/>
<line class="phi" x1="76.48" y1="-4.86" x2="93.52" y2="-23.14"/>
<text class="t" transform="translate(96.4 0) scale(0.75 1)" font-size="44">1</text>
<text class="t" transform="translate(114.51 0) scale(0.85 1)" font-size="44">2</text>
</g>
<g transform="translate(718.8 1652.8)">
<text class="t" transform="translate(-1.04 0) scale(0.79 1)" font-size="44">P</text>
<text class="t" transform="translate(18.83 0) scale(0.76 1)" font-size="44">.</text>
<text class="t" transform="translate(38.48 0) scale(0.55 1)" font-size="44">D</text>
<text class="t" transform="translate(56.74 0) scale(0.8 1)" font-size="44">=</text>
<ellipse class="phi" cx="85.7" cy="-14" rx="8.5" ry="8.8"/>
<line class="phi" x1="77.18" y1="-4.86" x2="94.22" y2="-23.14"/>
<text class="t" transform="translate(96.11 0) scale(0.84 1)" font-size="44">8</text>
</g>
<path d="M950.8 1667.7 L718.8 1667.7 L654.9 1754.7"/>
<path class="ah" d="M654.9 1754.7 L659.96 1744.77 L662.86 1746.9 Z"/>
</g>
<g id="iso">
<path d="M1433.4 1489.5 L1183.4 1754" class="iso"/>
<path d="M1442.3 1494.8 L1193 1759" class="iso"/>
<path d="M1442.3 1528.6 L1192.3 1794.2" class="iso"/>
<path d="M1455.1 1534.7 L1205.5 1799.1" class="iso"/>
<path d="M1433.4 1489.5 L1442.3 1494.8 L1442.3 1528.6 L1455.1 1534.7" class="iso"/>
<path d="M1183.4 1754 L1193 1759 L1192.3 1794.2 L1205.5 1799.1" class="iso"/>
<path d="M1594 1568.6 L1342.5 1834.7" class="iso"/>
<path d="M1603.2 1572.8 L1352.2 1839.5" class="iso"/>
<path d="M1594 1568.6 L1603.2 1572.8 L1603.2 1603.4" class="iso"/>
<path d="M1342.5 1834.7 L1352.2 1839.5 L1352.2 1873.5" class="iso"/>
<path d="M1455.1 1534.7 C1462 1562 1490 1600 1547.3 1616.8" class="iso"/>
<path d="M1583 1630.7 L1513.8 1701.6" class="iso"/>
<path d="M1583.6 1643.6 L1523.3 1707.2" class="iso"/>
<path d="M1580.8 1650.3 L1525 1708.3" class="iso"/>
<path d="M1205.5 1799.1 C1215 1830 1240 1858 1275 1876 C1300 1888 1320 1885 1333 1876 C1341 1869 1342.5 1862 1342.5 1857.3 L1342.5 1834.7" class="iso"/>
<path d="M1352.3 1873.4 L1361.6 1878 L1361.6 1871.4" class="iso"/>
<path d="M1354.2 1873 L1380.4 1846.4" class="iso"/>
<path d="M1362 1871.4 L1380.8 1851.9" class="iso"/>
<path d="M1423.33 1499.24 L1381.47 1480.04 L1372.54 1488.97 L1372.54 1507.95 L1336.83 1491.21 L1329.02 1500.13 L1393.19 1530.83" class="iso"/>
<path d="M1373.1 1489.87 L1385.38 1494 L1373.1 1507.39" class="iso"/>
<path d="M1328.79 1500.69 Q1329.58 1542.54 1349.67 1577.14" class="iso"/>
<ellipse class="iso" cx="1397.99" cy="1507.95" rx="12.5" ry="9.15"/>
<path d="M1320.03 1607.56 L1256.26 1576.08 L1248.23 1584.78 L1281.04 1600.86" class="iso"/>
<path d="M1248.23 1584.78 L1249.9 1604.54" class="iso"/>
<path d="M1235.83 1598.18 L1270.86 1615.26 L1273.54 1613.58" class="iso"/>
<path d="M1235.83 1598.18 L1228.8 1605.55 L1264.3 1622.63 L1250.9 1636.36" class="iso"/>
<path d="M1228.8 1605.55 L1230.48 1625.3" class="iso"/>
<path d="M1216.41 1618.61 L1250.9 1636.36" class="iso"/>
<path d="M1273.01 1659.13 L1207.37 1627.65 L1216.41 1618.61" class="iso"/>
<ellipse class="iso" cx="1286.87" cy="1609.9" rx="13.19" ry="9.38"/>
<path d="M1273.68 1609.9 L1273.68 1626.31" class="iso"/>
<path d="M1299.93 1609.9 L1299.93 1626.31" class="iso"/>
<path d="M1273.68 1626.31 A13.13 8.71 0 0 0 1299.93 1626.31" class="iso"/>
<path d="M1207.9 1629 Q1210.41 1672.53 1228.82 1704.34" class="iso"/>
<path d="M1201.25 1735.2 L1136.18 1703.39 L1125.58 1714 L1191.32 1745.8" class="iso"/>
<path d="M1125.58 1714.55 Q1126.7 1748.04 1138.97 1775.94" class="iso"/>
<path d="M1139.53 1775.71 Q1151.25 1755.85 1172.46 1753.39 L1181.94 1755.29" class="iso"/>
<path d="M1181.94 1755.62 L1181.94 1783.19" class="iso"/>
<path d="M1135.62 1779.29 Q1156.83 1770.36 1181.94 1783.19" class="iso"/>
<path d="M1135.62 1779.29 L1138.97 1793.24" class="iso"/>
<path d="M1138.97 1793.24 C1153.48 1806.07 1170.22 1812.77 1193.1 1811.09" class="iso"/>
<path d="M1193.1 1811.09 L1203.93 1829.51 L1209.29 1837.88 L1192.77 1839.78" class="iso"/>
<path d="M1152.37 1802.72 L1166.88 1826.16 L1185.85 1848.48" class="iso"/>
<path d="M1192.81 1839.82 Q1183.44 1846.78 1183.03 1862.86 L1194.15 1877.32 Q1204.19 1880 1213.57 1878.66 Q1225.62 1874.91 1232.99 1863.12" class="iso"/>
<path d="M1232.99 1863.12 L1258.43 1882.27" class="iso"/>
<path d="M1258.43 1882.27 Q1251.07 1897.68 1255.75 1913.75" class="iso"/>
<path d="M1213.57 1879.6 L1255.75 1913.75" class="iso"/>
<path d="M1255.75 1913.75 Q1259.1 1925.8 1265.13 1931.16 L1279.19 1937.85 L1287.23 1931.16 Q1292.58 1913.75 1286.56 1896.6" class="iso"/>
<path d="M1286.56 1896.6 L1311.33 1901.02" class="iso"/>
<path d="M1311.33 1901.02 Q1307.31 1913.75 1287.9 1931.16" class="iso"/>
<path d="M1287.9 1932.49 Q1327.4 1951.24 1350.17 1953.25 L1360.88 1953.25 Q1380.97 1956.6 1399.99 1952.58" class="iso"/>
<path d="M1311.33 1901.69 Q1318.03 1927.14 1350.17 1953.25" class="iso"/>
<path d="M1335.44 1899.01 L1350.84 1888.97" class="iso"/>
<path d="M1350.84 1888.97 Q1371.6 1911.07 1399.99 1922.45" class="iso"/>
<path d="M1335.44 1899.01 Q1356.87 1924.46 1360.88 1952.58" class="iso"/>
<path d="M1360.88 1952.58 L1380.3 1932.49" class="iso"/>
<path d="M1380.3 1932.49 Q1380.97 1919.1 1378.29 1913.08" class="iso"/>
<path d="M1382.01 1840.62 L1392.05 1830.57 L1465.71 1866.73 L1457.01 1875.44 L1382.01 1840.62" class="iso"/>
<path d="M1382.01 1840.62 L1381.34 1851.33" class="iso"/>
<path d="M1465.71 1866.73 L1465.71 1874.1 C1464.37 1914.28 1444.28 1947.76 1380 1956.06" class="iso"/>
<path d="M1457.01 1875.44 C1456.34 1907.58 1446.96 1927.67 1436.25 1939.72" class="iso"/>
<path d="M1380 1851.3 Q1409.5 1860.7 1428.4 1893.7 L1408.7 1912.9 L1405.4 1922.3 L1380 1916.3" class="iso"/>
<path d="M1363.5 1872.3 C1385 1884 1402 1900 1405.3 1923.4" class="iso"/>
<path d="M1394.73 1830.17 L1461.96 1759.19" class="iso"/>
<path d="M1404.11 1834.99 L1461.02 1774.33" class="iso"/>
<path d="M1407.45 1836.33 L1461.96 1776.07" class="iso"/>
<path d="M1450.71 1856.96 L1460.09 1780.35" class="iso"/>
<path d="M1457.01 1860.04 L1462.36 1781.02" class="iso"/>
<path d="M1461.96 1823.88 L1474.01 1812.76 L1474.42 1786.78" class="iso"/>
<path d="M1460.35 1845.71 Q1480.44 1848.92 1500.53 1843.3" class="iso"/>
<path d="M1512.6 1702.9 L1462.9 1752.9 L1462.9 1772.5" class="iso"/>
<path d="M1462.88 1752.92 L1539.22 1789.64 L1547.14 1781.72 L1511.43 1763.86 L1524.15 1749.8 L1566.34 1760.62 L1559.42 1767.54" class="iso"/>
<path d="M1524.15 1750.47 L1522.03 1768.66" class="iso"/>
<path d="M1531.52 1743.44 L1566.34 1760.62" class="iso"/>
<path d="M1531.52 1743.44 L1544.35 1729.49 L1586.76 1739.53 L1579.51 1746.79" class="iso"/>
<path d="M1544.35 1730.6 L1542.12 1746.79" class="iso"/>
<path d="M1512.6 1702.9 L1586.8 1739.5" class="iso"/>
<ellipse class="iso" cx="1511.43" cy="1736.18" rx="12.83" ry="9.15"/>
<path d="M1539.22 1789.64 C1539.33 1809.29 1531.52 1831.61 1517.01 1848.35" class="iso"/>
<path d="M1547.14 1781.72 C1547.37 1804.82 1540.45 1820.45 1528.17 1832.72" class="iso"/>
<path d="M1559.42 1767.54 C1558.86 1792.54 1551.61 1811.52 1535.98 1826.03" class="iso"/>
<path d="M1566.34 1760.62 C1566.12 1786.96 1558.3 1807.05 1540.45 1822.68" class="iso"/>
<path d="M1579.51 1746.79 C1578.95 1773.57 1569.46 1795.89 1549.38 1810.4" class="iso"/>
<path d="M1586.76 1739.53 C1587.32 1770.22 1576.16 1798.12 1551.61 1809.29" class="iso"/>
<path d="M1461.21 1780.27 L1490.78 1793.66 L1494.69 1831.61" class="iso"/>
<path d="M1494.69 1831.61 C1496.92 1845 1506.96 1849.46 1517.01 1848.35" class="iso"/>
<path d="M1462.88 1772.46 L1461.43 1780.27 L1460.09 1845.89" class="iso"/>
<path d="M1474.04 1786.96 L1474.38 1812.08 L1461.76 1824.35" class="iso"/>
<path d="M1460.09 1845.56 Q1481.29 1849.46 1501.38 1843.88" class="iso"/>
<path d="M1460.09 1778.04 L1450.6 1857.28" class="iso"/>
<path d="M1462.1 1782.5 L1456.96 1860.85" class="iso"/>
<path d="M1602.97 1603.44 L1583.83 1624.69 L1660.39 1660.62 L1667.42 1653.83 L1656.48 1647.19" class="iso"/>
<path d="M1636.17 1605.39 L1664.69 1619.06 L1664.69 1651.88" class="iso"/>
<path d="M1664.69 1619.06 L1656.48 1627.27 L1656.48 1647.19" class="iso"/>
<path d="M1656.48 1627.27 L1645.16 1622.19 L1632.66 1635.86 L1656.48 1647.19" class="iso"/>
<path d="M1659.22 1660.47 L1660.39 1660.62" class="iso"/>
<path d="M1645.16 1623.75 L1642.42 1640.16" class="iso"/>
<path d="M1583.83 1624.69 L1583.83 1642.5" class="iso"/>
<path d="M1581.48 1651.25 L1611.56 1665.94 L1614.69 1697.19" class="iso"/>
<path d="M1614.69 1697.19 Q1617.03 1719.84 1632.66 1719.84 Q1642.03 1719.84 1649.84 1705 Q1658.83 1685.47 1659.38 1660.62" class="iso"/>
<path d="M1667.42 1653.83 L1667.42 1665.94 Q1664.69 1693.28 1645.94 1714.38" class="iso"/>
<path d="M1664.69 1677.66 L1664.69 1690.94 L1653.75 1701.09" class="iso"/>
<path d="M1581.48 1651.25 L1581.48 1708.91 L1599.84 1718.28 L1620.94 1715.94" class="iso"/>
<path d="M1594.38 1658.12 L1594.38 1683.91 L1582.66 1696.41" class="iso"/>
<path d="M1580.94 1648.75 L1578.75 1730" class="iso"/>
<path d="M1579.53 1655 L1571.72 1730" class="iso"/>
<ellipse class="iso" cx="1622.5" cy="1602.66" rx="12.89" ry="8.98"/>
<path d="M1609.06 1602.66 L1609.06 1619.06" class="iso"/>
<path d="M1635.62 1602.66 L1635.62 1619.06" class="iso"/>
<path d="M1609.06 1619.06 A13.28 8.2 0 0 0 1635.62 1619.06" class="iso"/>
</g>
</svg></body></html>
